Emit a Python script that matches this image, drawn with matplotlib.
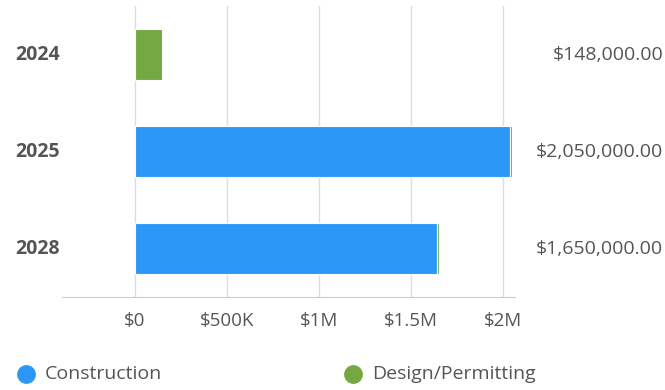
import matplotlib.pyplot as plt
from matplotlib.lines import Line2D

years = ["2024", "2025", "2028"]
construction = [0, 2040000, 1640000]
design = [148000, 10000, 10000]
totals = [148000, 2050000, 1650000]
tick_vals = [0, 500000, 1000000, 1500000, 2000000]
tick_labels = ["$0", "$500K", "$1M", "$1.5M", "$2M"]
series = ["Construction", "Design/Permitting"]

blue = "#2b98f8"
green = "#74a842"
txt = "#555555"

plt.rcParams['font.family'] = ['Open Sans', 'DejaVu Sans']

fig = plt.figure(figsize=(6.65, 3.9), dpi=100)
ax = fig.add_axes([62 / 665, 1 - 297 / 390, (515 - 62) / 665, (297 - 6) / 390])

pos = list(range(len(years)))
ax.barh(pos, construction, height=0.53, color=blue, edgecolor="white", linewidth=0.8, zorder=3)
ax.barh(pos, design, left=construction, height=0.53, color=green, edgecolor="white", linewidth=0.8, zorder=3)

ax.set_ylim(2.5, -0.5)
ax.set_xlim(-0.397e6, 2.065e6)
ax.set_xticks(tick_vals)
ax.set_xticklabels(tick_labels, fontsize=13.5, color=txt)
ax.tick_params(axis="x", length=0, pad=11)
ax.set_yticks([])
ax.grid(axis="x", color="#dddddd", linewidth=1, zorder=0)
for s in ["top", "right", "left"]:
    ax.spines[s].set_visible(False)
ax.spines["bottom"].set_color("#cccccc")

for i, y in enumerate(years):
    fig.text(38 / 665, 1 - (55 + 97 * i) / 390, y,
             ha="center", va="center", fontsize=14, fontweight="bold", color=txt)
    fig.text(663 / 665, 1 - (55 + 97 * i) / 390, "${:,.2f}".format(totals[i]),
             ha="right", va="center", fontsize=14, color=txt)

# legend drawn by hand
for name, col, cx in zip(series, [blue, green], [26, 353]):
    fig.add_artist(Line2D([cx / 665], [1 - 374 / 390], marker="o", markersize=12.5,
                          color=col, linestyle="", transform=fig.transFigure))
    fig.text((cx + 19) / 665, 1 - 374 / 390, name, ha="left", va="center",
             fontsize=14, color=txt)

fig.savefig("out.png", dpi=100)
